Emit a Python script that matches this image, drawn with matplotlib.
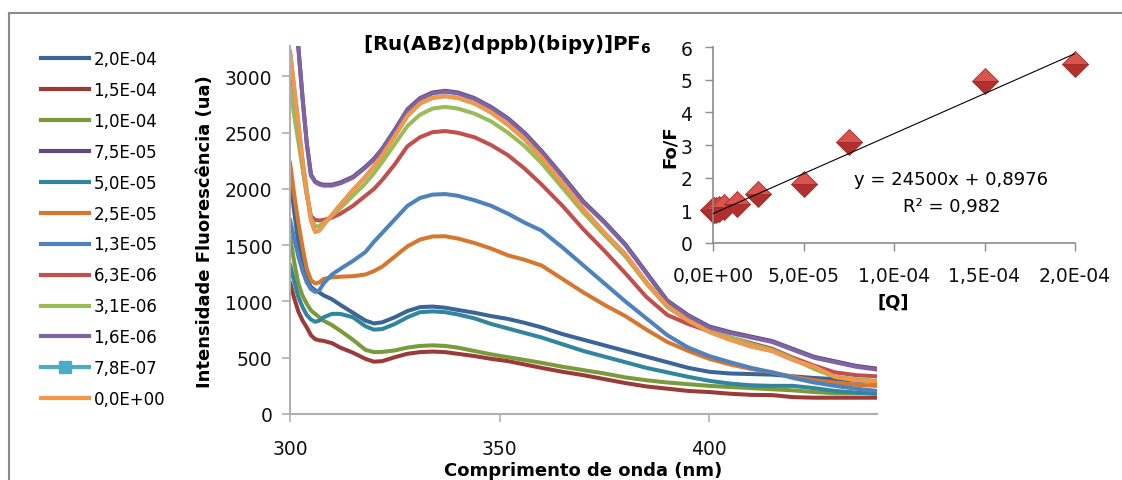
import matplotlib
matplotlib.use("Agg")
import matplotlib.pyplot as plt
from matplotlib.lines import Line2D
from matplotlib.patches import Rectangle
import numpy as np

plt.rcParams["font.family"] = ["DejaVu Sans"]
plt.rcParams["mathtext.fontset"] = "custom"
plt.rcParams["mathtext.bf"] = "DejaVu Sans:bold"
plt.rcParams["mathtext.rm"] = "DejaVu Sans:bold"

# ---------------- emission spectra ----------------
wavelength = [300, 301, 302, 303, 304, 305, 306, 307, 308, 310,
              312, 315, 318, 320, 322, 325, 328, 331, 334, 337,
              340, 344, 348, 352, 356, 360, 365, 370, 375, 380,
              385, 390, 395, 400, 405, 410, 415, 420, 425, 430,
              435, 440]

series_labels = ["2,0E-04", "1,5E-04", "1,0E-04", "7,5E-05", "5,0E-05", "2,5E-05",
                 "1,3E-05", "6,3E-06", "3,1E-06", "1,6E-06", "7,8E-07", "0,0E+00"]

series_colors = ["#3b6597", "#9b3b39", "#7a9a3c", "#5f4a7e", "#31859c", "#d6772f",
                 "#4f81bd", "#c0504d", "#9bbb59", "#8064a2", "#4bacc6", "#f79646"]

conc_2_0e4 = [2110, 1800, 1520, 1330, 1200, 1130, 1100, 1080, 1055, 1020,
              970, 900, 830, 805, 815, 860, 915, 950, 955, 945,
              925, 900, 870, 845, 810, 770, 710, 660, 610, 560,
              510, 460, 410, 375, 360, 355, 350, 335, 320, 310,
              295, 285]
conc_1_5e4 = [1170, 1030, 910, 830, 770, 700, 665, 655, 650, 630,
              590, 545, 490, 465, 470, 505, 535, 550, 555, 550,
              535, 515, 490, 470, 440, 410, 375, 345, 310, 275,
              245, 225, 205, 195, 180, 170, 168, 150, 145, 145,
              145, 145]
conc_1_0e4 = [1580, 1350, 1160, 1050, 980, 920, 890, 860, 830, 790,
              740, 660, 570, 550, 552, 565, 590, 605, 610, 605,
              590, 560, 530, 505, 480, 455, 420, 390, 360, 325,
              300, 280, 265, 250, 240, 230, 220, 210, 195, 185,
              185, 185]
conc_7_5e5 = [4210, 3710, 3260, 2810, 2410, 2128, 2068, 2048, 2038, 2038,
              2058, 2108, 2198, 2268, 2358, 2528, 2708, 2808, 2858, 2873,
              2858, 2808, 2728, 2628, 2498, 2338, 2118, 1888, 1708, 1508,
              1258, 1008, 878, 778, 728, 688, 648, 578, 508, 468,
              428, 403]
conc_5_0e5 = [1330, 1180, 1040, 950, 880, 840, 820, 830, 860, 890,
              890, 860, 780, 750, 755, 800, 860, 905, 912, 905,
              885, 850, 800, 760, 720, 680, 620, 560, 510, 460,
              410, 370, 330, 295, 270, 255, 250, 250, 230, 205,
              190, 180]
conc_2_5e5 = [2240, 1950, 1700, 1480, 1290, 1190, 1160, 1170, 1200, 1215,
              1220, 1225, 1240, 1270, 1310, 1400, 1490, 1550, 1578, 1580,
              1560, 1520, 1470, 1410, 1370, 1320, 1200, 1080, 970, 870,
              750, 640, 560, 490, 440, 400, 370, 330, 300, 280,
              260, 250]
conc_1_3e5 = [1730, 1560, 1400, 1270, 1170, 1110, 1085, 1100, 1160, 1240,
              1290, 1360, 1440, 1530, 1610, 1730, 1850, 1920, 1950, 1955,
              1940, 1900, 1850, 1780, 1700, 1630, 1480, 1320, 1160, 1000,
              850, 700, 590, 515, 460, 410, 370, 320, 280, 250,
              225, 205]
conc_6_3e6 = [3120, 2800, 2500, 2200, 1950, 1760, 1725, 1720, 1725, 1745,
              1780, 1850, 1940, 2000, 2080, 2220, 2380, 2460, 2505, 2515,
              2500, 2460, 2390, 2300, 2180, 2040, 1850, 1640, 1450, 1250,
              1040, 880, 800, 735, 680, 630, 580, 500, 430, 370,
              345, 335]
conc_3_1e6 = [2910, 2650, 2420, 2180, 1950, 1740, 1665, 1670, 1700, 1760,
              1830, 1940, 2050, 2140, 2240, 2400, 2560, 2660, 2715, 2730,
              2715, 2670, 2600, 2500, 2380, 2230, 2010, 1790, 1590, 1400,
              1160, 950, 830, 740, 680, 620, 570, 490, 400, 330,
              310, 295]
conc_1_6e6 = [4200, 3700, 3250, 2800, 2400, 2120, 2060, 2040, 2030, 2030,
              2050, 2100, 2190, 2260, 2350, 2520, 2700, 2800, 2850, 2865,
              2850, 2800, 2720, 2620, 2490, 2330, 2110, 1880, 1700, 1500,
              1250, 1000, 870, 770, 720, 680, 640, 570, 500, 460,
              420, 395]
conc_7_8e7 = [3230, 2900, 2580, 2250, 1980, 1720, 1620, 1630, 1680, 1770,
              1860, 1990, 2110, 2200, 2300, 2470, 2650, 2760, 2810, 2825,
              2810, 2760, 2680, 2570, 2440, 2280, 2050, 1820, 1610, 1420,
              1170, 960, 830, 730, 660, 600, 560, 480, 420, 330,
              300, 290]
conc_0_0 = [3230, 2900, 2580, 2250, 1980, 1720, 1620, 1630, 1680, 1770,
            1860, 1990, 2110, 2200, 2300, 2470, 2650, 2760, 2810, 2825,
            2810, 2760, 2680, 2570, 2440, 2280, 2050, 1820, 1610, 1420,
            1170, 960, 830, 730, 660, 600, 560, 480, 420, 330,
            300, 290]

spectra = [conc_2_0e4, conc_1_5e4, conc_1_0e4, conc_7_5e5, conc_5_0e5, conc_2_5e5,
           conc_1_3e5, conc_6_3e6, conc_3_1e6, conc_1_6e6, conc_7_8e7, conc_0_0]

# ---------------- Stern-Volmer inset ----------------
quencher = [0.0, 7.8e-7, 1.6e-6, 3.1e-6, 6.3e-6, 1.3e-5, 2.5e-5, 5.0e-5, 7.5e-5, 1.5e-4, 2.0e-4]
fo_over_f = [1.00, 1.00, 1.02, 1.05, 1.10, 1.18, 1.50, 1.82, 3.10, 4.95, 5.48]
fit_slope = 24500
fit_intercept = 0.8976
fit_r2 = 0.982

W, H = 1122, 481
fig = plt.figure(figsize=(W / 100, H / 100), dpi=100)

# outer chart border
fig.patches.append(Rectangle((9 / W, -0.2), 1.2, 1.2 - 14 / H, transform=fig.transFigure,
                             fill=False, edgecolor="#8a8a8a", linewidth=1.5))

axis_gray = "#b0b0b0"
ax = fig.add_axes([290 / W, 1 - 415 / H, (877 - 290) / W, (415 - 47) / H])
for vals, col in zip(spectra, series_colors):
    ax.plot(wavelength, vals, color=col, lw=2.9, solid_joinstyle="round",
            solid_capstyle="round")
ax.set_xlim(300, 440)
ax.set_ylim(0, 3271)
ax.set_xticks([300, 350, 400])
ax.set_yticks(range(0, 3001, 500))
for s in ("top", "right"):
    ax.spines[s].set_visible(False)
for s in ("left", "bottom"):
    ax.spines[s].set_color(axis_gray)
    ax.spines[s].set_linewidth(1.5)
ax.tick_params(axis="both", direction="out", length=5.8, width=1.2, color=axis_gray,
               labelsize=13.5, labelcolor="#111111")
ax.tick_params(axis="x", pad=12)
ax.tick_params(axis="y", pad=7)

fig.text(583 / W, 1 - 476 / H, "Comprimento de onda (nm)", ha="center", va="baseline",
         fontsize=13, fontweight="bold")
fig.text(205 / W, 1 - 232 / H, "Intensidade Fluorescência (ua)", ha="center", va="center",
         rotation=90, fontsize=13, fontweight="bold")
fig.text(507 / W, 1 - 45 / H, "[Ru(ABz)(dppb)(bipy)]PF" + r"$_{\mathbf{6}}$",
         ha="center", va="center", fontsize=14.3, fontweight="bold")

# legend
handles = []
for lab, col in zip(series_labels, series_colors):
    if lab == "7,8E-07":
        handles.append(Line2D([], [], color=col, lw=3, marker="s", markersize=9))
    else:
        handles.append(Line2D([], [], color=col, lw=3))
fig.legend(handles, series_labels, loc="upper left", bbox_to_anchor=(41 / W, 1 - 51 / H),
           frameon=False, fontsize=12, handlelength=2.85, handletextpad=0.3,
           labelspacing=0.775, borderpad=0, borderaxespad=0)

# inset
inset_gray = "#8c8c8c"
ax2 = fig.add_axes([713 / W, 1 - 244 / H, (1075 - 713) / W, (244 - 48) / H])
ax2.patch.set_alpha(0)
q_fit = np.array([min(quencher), max(quencher)])
ax2.plot(q_fit, fit_slope * q_fit + fit_intercept, color="black", lw=0.8, zorder=3)
ax2.plot(quencher, fo_over_f, linestyle="none", marker="D", markersize=13,
         fillstyle="top", markerfacecolor="#d9534f", markerfacecoloralt="#b0302d",
         markeredgecolor="#a52c2a", markeredgewidth=0.6, clip_on=False, zorder=2)
ax2.set_xlim(0, 2e-4)
ax2.set_ylim(0, 6)
ax2.set_yticks(range(0, 7))
q_ticks = [0, 5e-5, 1e-4, 1.5e-4, 2e-4]
ax2.set_xticks(q_ticks)
ax2.set_xticklabels([f"{v:.1E}".replace(".", ",") for v in q_ticks])
for s in ("top", "right"):
    ax2.spines[s].set_visible(False)
for s in ("left", "bottom"):
    ax2.spines[s].set_color(inset_gray)
    ax2.spines[s].set_linewidth(1.2)
ax2.tick_params(axis="both", direction="out", length=5.8, width=1.0, color=inset_gray,
                labelsize=13.5, labelcolor="#111111")
ax2.tick_params(axis="x", pad=11)
ax2.tick_params(axis="y", pad=9)
fig.text(670 / W, 1 - 147 / H, "Fo/F", rotation=90, ha="center", va="center",
         fontsize=13, fontweight="bold")
fig.text(893 / W, 1 - 302 / H, "[Q]", ha="center", va="center", fontsize=13,
         fontweight="bold")
ax2.text(1.317e-4, 1.96, f"y = {fit_slope}x + {str(fit_intercept).replace('.', ',')}",
         ha="center", va="center", fontsize=13)
ax2.text(1.317e-4, 1.13, f"R² = {str(fit_r2).replace('.', ',')}", ha="center",
         va="center", fontsize=13)

fig.savefig("out.png", dpi=100)
